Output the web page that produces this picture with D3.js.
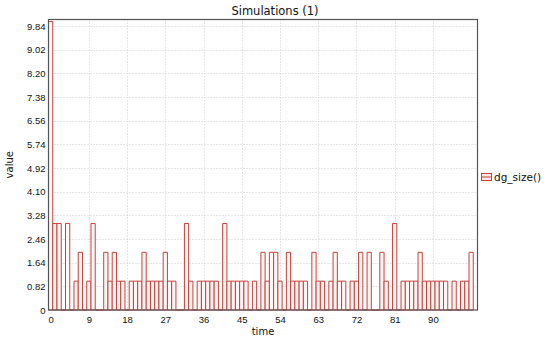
<!DOCTYPE html>
<html>
<head>
<meta charset="utf-8">
<script src="https://cdn.jsdelivr.net/npm/d3@7"></script>
<style>
  body { margin: 0; background: #fff; }
  svg { display: block; font-family: "DejaVu Sans", Verdana, sans-serif; }
</style>
</head>
<body>
<svg id="chart"></svg>
<script>
const title = 'Simulations (1)';
const seriesName = 'dg_size()';
const xLabel = 'time';
const yLabel = 'value';

const timePoints = [0, 1, 2, 3, 4, 5, 6, 7, 8, 9, 10, 11, 12, 13, 14, 15, 16, 17, 18, 19,
  20, 21, 22, 23, 24, 25, 26, 27, 28, 29, 30, 31, 32, 33, 34, 35, 36, 37, 38, 39,
  40, 41, 42, 43, 44, 45, 46, 47, 48, 49, 50, 51, 52, 53, 54, 55, 56, 57, 58, 59,
  60, 61, 62, 63, 64, 65, 66, 67, 68, 69, 70, 71, 72, 73, 74, 75, 76, 77, 78, 79,
  80, 81, 82, 83, 84, 85, 86, 87, 88, 89, 90, 91, 92, 93, 94, 95, 96, 97, 98, 99];
const dgSize = [10, 3, 3, 0, 3, 0, 1, 2, 0, 1, 3, 0, 0, 2, 1, 2, 1, 1, 0, 1,
  1, 1, 2, 1, 1, 1, 1, 2, 1, 1, 0, 0, 3, 1, 0, 1, 1, 1, 1, 1,
  0, 3, 1, 1, 1, 1, 1, 0, 1, 0, 2, 1, 2, 2, 1, 0, 2, 1, 1, 1,
  1, 0, 2, 1, 1, 0, 1, 2, 1, 1, 0, 1, 1, 2, 0, 2, 0, 0, 2, 1,
  0, 3, 0, 1, 1, 1, 1, 2, 1, 1, 1, 1, 1, 1, 0, 1, 0, 1, 1, 2];
const xTicks = [0, 9, 18, 27, 36, 45, 54, 63, 72, 81, 90];
const yTicks = [0, 0.82, 1.64, 2.46, 3.28, 4.10, 4.92, 5.74, 6.56, 7.38, 8.20, 9.02, 9.84];

const width = 550;
const height = 344;
const margin = { left: 48.5, right: 72.5, top: 19.5, bottom: 34 };
const barColor = '#c8403a';

const data = timePoints.map(function(t, i) {
  return { t: t, v: dgSize[i] };
});

const svg = d3.select('#chart')
  .attr('width', width)
  .attr('height', height);

const x = d3.scaleLinear()
  .domain([-0.5, 100.5])
  .range([margin.left, width - margin.right]);
const y = d3.scaleLinear()
  .domain([0, 10.07])
  .range([height - margin.bottom, margin.top]);

// grid
const grid = svg.append('g').attr('class', 'grid');
grid.selectAll('line.vgrid')
  .data(xTicks)
  .enter().append('line')
  .attr('class', 'vgrid')
  .attr('x1', function(d) { return Math.round(x(d)) + 0.5; })
  .attr('x2', function(d) { return Math.round(x(d)) + 0.5; })
  .attr('y1', y.range()[1])
  .attr('y2', y.range()[0])
  .attr('stroke', '#cfcfcf')
  .attr('stroke-dasharray', '1,2');
grid.selectAll('line.hgrid')
  .data(yTicks.filter(function(d) { return d > 0; }))
  .enter().append('line')
  .attr('class', 'hgrid')
  .attr('x1', x.range()[0])
  .attr('x2', x.range()[1])
  .attr('y1', function(d) { return Math.round(y(d)) + 0.5; })
  .attr('y2', function(d) { return Math.round(y(d)) + 0.5; })
  .attr('stroke', '#cfcfcf')
  .attr('stroke-dasharray', '1,2');

// bars (step histogram)
svg.append('g').attr('class', 'bars')
  .selectAll('path')
  .data(data)
  .enter().append('path')
  .attr('d', function(d) {
    const x0 = x(d.t - 0.5), x1 = x(d.t + 0.5);
    const y0 = y(0), y1 = y(d.v);
    return 'M' + x0 + ',' + y0 + 'V' + y1 + 'H' + x1 + 'V' + y0 + 'Z';
  })
  .attr('fill', '#fff6f6')
  .attr('stroke', barColor)
  .attr('stroke-width', 1);

// frame
svg.append('rect')
  .attr('x', x.range()[0])
  .attr('y', y.range()[1])
  .attr('width', x.range()[1] - x.range()[0])
  .attr('height', y.range()[0] - y.range()[1])
  .attr('fill', 'none')
  .attr('stroke', '#555')
  .attr('stroke-width', 1.2);

// axes
const xAxis = d3.axisBottom(x).tickValues(xTicks).tickSize(0).tickPadding(6);
const yAxis = d3.axisLeft(y).tickValues(yTicks).tickSize(0).tickPadding(3)
  .tickFormat(function(d) { return d === 0 ? '0' : d.toFixed(2); });

svg.append('g')
  .attr('class', 'x axis')
  .attr('transform', 'translate(0,' + y.range()[0] + ')')
  .call(xAxis);
svg.append('g')
  .attr('class', 'y axis')
  .attr('transform', 'translate(' + x.range()[0] + ',0)')
  .call(yAxis);

svg.selectAll('.domain').remove();
svg.selectAll('.axis text')
  .attr('fill', '#111')
  .style('font-size', '9.5px');

// titles
svg.append('text')
  .attr('x', width / 2)
  .attr('y', 15)
  .attr('text-anchor', 'middle')
  .style('font-size', '11.5px')
  .attr('fill', '#111')
  .text(title);

svg.append('text')
  .attr('x', (x.range()[0] + x.range()[1]) / 2)
  .attr('y', 335)
  .attr('text-anchor', 'middle')
  .style('font-size', '10px')
  .attr('fill', '#111')
  .text(xLabel);

svg.append('text')
  .attr('transform', 'translate(13,' + (y.range()[0] + y.range()[1]) / 2 + ') rotate(-90)')
  .attr('text-anchor', 'middle')
  .style('font-size', '10px')
  .attr('fill', '#111')
  .text(yLabel);

// legend
const legend = svg.append('g')
  .attr('class', 'legend')
  .attr('transform', 'translate(481,173)');
legend.append('rect')
  .attr('x', 0.5)
  .attr('y', 0.5)
  .attr('width', 10)
  .attr('height', 7)
  .attr('fill', '#fde8e8')
  .attr('stroke', barColor);
legend.append('line')
  .attr('x1', 0.5)
  .attr('x2', 10.5)
  .attr('y1', 4)
  .attr('y2', 4)
  .attr('stroke', barColor);
legend.append('text')
  .attr('x', 13)
  .attr('y', 7.5)
  .style('font-size', '10.5px')
  .attr('fill', '#111')
  .text(seriesName);
</script>
</body>
</html>
